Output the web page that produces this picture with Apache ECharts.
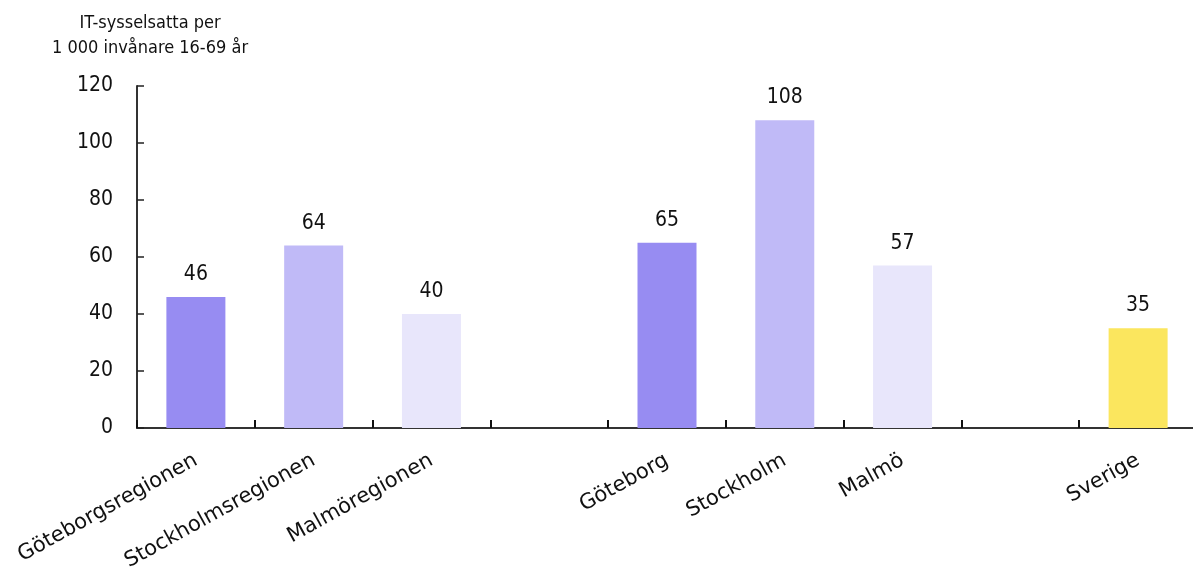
<!DOCTYPE html>
<html>
<head>
<meta charset="utf-8">
<script src="https://cdn.jsdelivr.net/npm/echarts@6/dist/echarts.min.js"></script>
<style>
    html, body { margin: 0; padding: 0; background: #fff; overflow: hidden; }
    #main { width: 1200px; height: 574px; }
</style>
</head>
<body>
<div id="main"></div>
<script>
// kategorier och värden
var categories = ['Göteborgsregionen', 'Stockholmsregionen', 'Malmöregionen', '', 'Göteborg', 'Stockholm', 'Malmö', '', 'Sverige'];
var values = [46, 64, 40, null, 65, 108, 57, null, 35];
var barColors = ['#978cf2', '#c0baf7', '#e8e6fb', '#fff', '#978cf2', '#c0baf7', '#e8e6fb', '#fff', '#fbe65e'];
var yTicks = [0, 20, 40, 60, 80, 100, 120];

var fontMain = 'DejaVu Sans Condensed';

function drawChart() {
    var dom = document.getElementById('main');
    var myChart = echarts.init(dom);
    var option = {
        animation: false,
        title: {
            text: 'IT-sysselsatta per\n1 000 invånare 16-69 år',
            left: 145,
            top: 6,
            textAlign: 'center',
            textStyle: {
                fontFamily: fontMain,
                fontSize: 18,
                fontWeight: 'normal',
                color: '#111',
                lineHeight: 25
            }
        },
        grid: {
            left: 137,
            top: 86,
            width: 1060,
            height: 342,
            outerBoundsMode: 'none'
        },
        xAxis: {
            type: 'category',
            data: categories,
            axisLine: { lineStyle: { color: '#333', width: 2 } },
            axisTick: { show: true, inside: true, length: 8, lineStyle: { color: '#111', width: 2 } },
            axisLabel: {
                rotate: 29,
                interval: 0,
                margin: 31,
                fontFamily: 'DejaVu Sans',
                fontSize: 21,
                color: '#111'
            }
        },
        yAxis: {
            type: 'value',
            min: 0,
            max: yTicks[yTicks.length - 1],
            interval: 20,
            splitLine: { show: false },
            axisLine: { show: true, lineStyle: { color: '#333', width: 2 } },
            axisTick: { show: true, inside: true, length: 7, lineStyle: { color: '#222', width: 1.5 } },
            axisLabel: {
                margin: 24,
                fontFamily: fontMain,
                fontSize: 21,
                color: '#111'
            }
        },
        series: [{
            type: 'bar',
            barWidth: 59,
            data: values.map(function (v, i) {
                return { value: v, itemStyle: { color: barColors[i] } };
            }),
            label: {
                show: true,
                position: 'top',
                distance: 12,
                fontFamily: fontMain,
                fontSize: 21,
                color: '#111'
            }
        }]
    };
    myChart.setOption(option, true);
}
drawChart();
</script>
</body>
</html>
